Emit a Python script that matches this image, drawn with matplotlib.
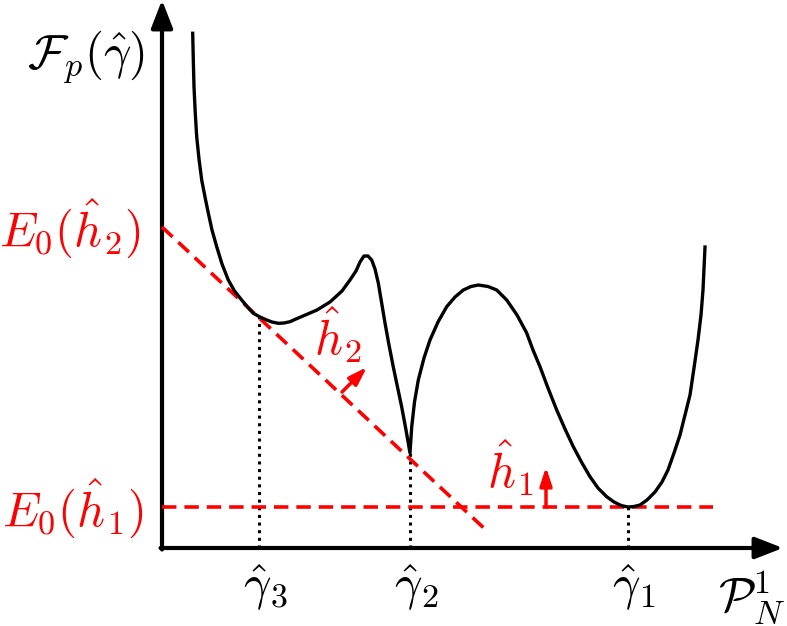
import matplotlib as mpl
mpl.use('Agg')
import matplotlib.pyplot as plt

plt.rcParams['mathtext.fontset'] = 'cm'

# free energy curve (schematic units, origin at the axes corner)
curve_x = [30.7, 31.3, 32, 33.2, 34.7, 37, 39.7, 43, 46.3, 50, 54.7, 60, 66.3, 72.5, 79.7,
           85.5, 91.3, 98, 104.7, 110, 116.3, 122, 128, 134, 141,
           155, 168, 180, 188, 194, 198, 202, 206, 209.7, 213, 216.3, 219.5, 223, 227, 231.3,
           235.5, 239.7, 244, 248,
           249.7, 252.5, 256.3, 262, 268, 276, 284.7, 293, 301.3, 309, 316.3, 326, 334.7, 344.7,
           355, 364.7, 371, 378, 386, 394.7, 403, 411.3, 420, 428, 436, 444.7, 452, 458, 461,
           466.3, 472, 478, 485, 493, 500, 506, 512, 518, 523, 528, 532, 536, 539, 541, 543]
curve_y = [514.7, 488, 461.3, 436, 411.3, 389, 368, 351, 335, 318, 301.3, 284, 268, 257, 248,
           241, 234.7, 231, 228, 226, 224.7, 225, 226.3, 229, 232,
           238, 246, 257, 268, 277, 286, 292, 292, 288, 279, 265, 246, 225, 203, 181,
           161, 141, 118, 95,
           121, 146, 168, 190, 208, 226, 241.3, 251, 258, 261.5, 263, 261.5, 258, 248,
           233, 215, 198, 181.3, 160, 138, 119, 101.3, 85, 71.3, 60, 51.3, 46, 43, 42,
           41, 41.5, 43, 48, 56, 66, 78, 95, 113, 133, 153, 180, 208, 233, 258, 301]

# tangent construction lines
tangent_x = [0, 325]
tangent_y = [321, 17]
ground_x = [0, 551]
ground_y = [41, 41]

# minima positions and heights
gamma_x = [97, 248, 466]
gamma_top = [231, 95, 41]
gamma_labels = [r'$\hat{\gamma}_3$', r'$\hat{\gamma}_2$', r'$\hat{\gamma}_1$']

fig = plt.figure(figsize=(7.87, 6.26), dpi=100)
ax = fig.add_axes([0, 0, 1, 1])
ax.set_xlim(-162, 625)
ax.set_ylim(-78, 548)
ax.axis('off')

red = '#ff0000'
ahead = dict(arrowstyle='-|>,head_length=0.85,head_width=0.33', lw=3, color='k',
             mutation_scale=20, shrinkA=0, shrinkB=0)
ax.annotate('', xy=(0, 548), xytext=(0, -1.5), arrowprops=ahead)
ax.annotate('', xy=(621, 0), xytext=(-1.5, 0), arrowprops=ahead)

for gx, gt in zip(gamma_x, gamma_top):
    ax.plot([gx, gx], [0, gt], color='k', lw=2.2, ls=(0, (1, 1.5)), zorder=2)

ax.plot(tangent_x, tangent_y, color=red, lw=2.6, ls=(0, (4.0, 2.2)), zorder=3)
ax.plot(ground_x, ground_y, color=red, lw=2.6, ls=(0, (4.0, 2.2)), zorder=3)
ax.plot(curve_x, curve_y, color='k', lw=2.4, solid_joinstyle='round', zorder=4)

rhead = dict(arrowstyle='-|>,head_length=0.55,head_width=0.18', lw=2.5, color=red,
             mutation_scale=20, shrinkA=0, shrinkB=0)
ax.annotate('', xy=(205, 181), xytext=(180, 156), arrowprops=rhead)
ax.annotate('', xy=(384, 81), xytext=(384, 41), arrowprops=rhead)

fs = 35
ax.text(-76, 491, r'$\mathcal{F}_p(\hat{\gamma})$', fontsize=fs, ha='center', va='center')
ax.text(-92, 320, r'$E_0(\hat{h}_2)$', fontsize=fs, color=red, ha='center', va='center')
ax.text(-89, 40, r'$E_0(\hat{h}_1)$', fontsize=fs, color=red, ha='center', va='center')
ax.text(176, 213, r'$\hat{h}_2$', fontsize=fs, color=red, ha='center', va='center')
ax.text(348, 80, r'$\hat{h}_1$', fontsize=fs, color=red, ha='center', va='center')
for gx, lab in zip(gamma_x, gamma_labels):
    ax.text(gx + 6, -40, lab, fontsize=fs, ha='center', va='center')
ax.text(590, -49, r'$\mathcal{P}_N^1$', fontsize=fs, ha='center', va='center')

fig.savefig('out.png', dpi=100)
